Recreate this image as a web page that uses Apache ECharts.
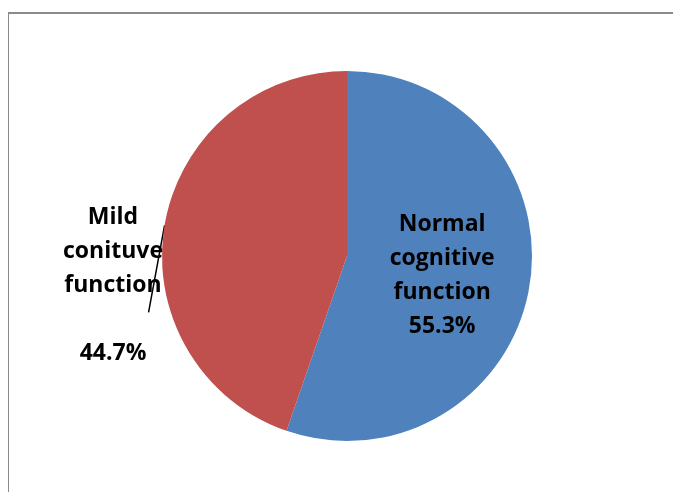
<!DOCTYPE html>
<html>
<head>
<meta charset="utf-8">
<script src="https://cdn.jsdelivr.net/npm/echarts@6/dist/echarts.min.js"></script>
<style>
html,body{margin:0;padding:0;background:#fff;overflow:hidden;}
#chart{position:absolute;left:0;top:0;width:673px;height:492px;}
#frame{position:absolute;left:8px;top:12px;width:700px;height:500px;border-left:1px solid #8a8a8a;border-top:2px solid #8a8a8a;pointer-events:none;box-sizing:border-box;}
</style>
</head>
<body>
<div id="chart"></div>
<div id="frame"></div>
<script>
const categories = ['Normal cognitive function', 'Mild conituve function'];
const values = [55.3, 44.7];
const labelTexts = ['Normal\ncognitive\nfunction\n55.3%', 'Mild\nconituve\nfunction\n\n44.7%'];
const colors = ['#4F81BD', '#C0504D'];

const chart = echarts.init(document.getElementById('chart'), null, {renderer: 'canvas'});
const data = categories.map((c, i) => ({
  name: c,
  value: values[i],
  itemStyle: {color: colors[i]},
  label: i === 0 ? {position: 'inside'} : {position: 'outside'},
  labelLine: {show: i === 1}
}));

chart.setOption({
  animation: false,
  series: [{
    type: 'pie',
    center: [347, 256],
    radius: 185,
    startAngle: 90,
    clockwise: true,
    data: data,
    label: {
      show: true,
      formatter: p => labelTexts[p.dataIndex],
      fontFamily: 'Open Sans',
      fontWeight: 'bold',
      fontSize: 23,
      lineHeight: 34,
      color: '#000',
      align: 'center'
    },
    labelLine: {
      lineStyle: {color: '#000', width: 1.5}
    },
    labelLayout: function (p) {
      if (p.dataIndex === 1) {
        const pts = p.labelLinePoints;
        const a = pts ? pts[0] : [164, 226];
        const end = [a[0] - 16, a[1] + 87];
        return {
          x: 113,
          y: 285,
          align: 'center',
          verticalAlign: 'middle',
          labelLinePoints: [a, [(a[0] + end[0]) / 2, (a[1] + end[1]) / 2], end]
        };
      }
      return {dx: 1, dy: 4};
    }
  }]
});
</script>
</body>
</html>
